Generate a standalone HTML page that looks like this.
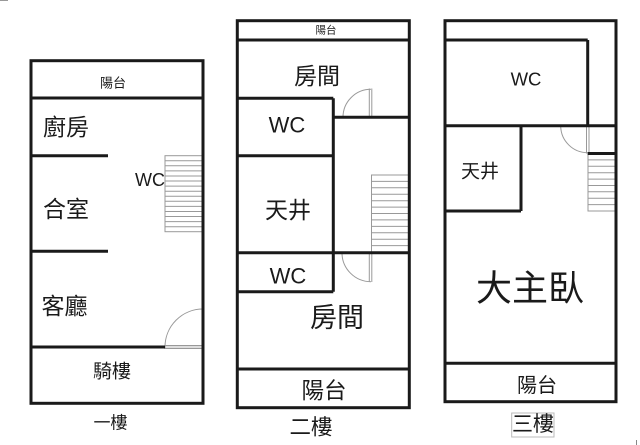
<!DOCTYPE html>
<html><head><meta charset="utf-8"><style>
html,body{margin:0;padding:0;background:#fff;}
svg{display:block;}
text{font-family:"Liberation Sans","Noto Sans CJK TC",sans-serif;fill:#1a1a1a;}
</style></head><body>
<svg width="640" height="445" viewBox="0 0 640 445" xmlns="http://www.w3.org/2000/svg">
<line x1="0" y1="0.5" x2="8" y2="0.5" stroke="#999" stroke-width="1"/>
<!-- ===== Floor 1 ===== -->
<g fill="none" stroke="#999" stroke-width="1">
  <rect x="165" y="155.7" width="38" height="76"/>
  <path d="M165 160.8H203M165 165.8H203M165 170.9H203M165 176H203M165 181H203M165 186.1H203M165 191.2H203M165 196.3H203M165 201.3H203M165 206.4H203M165 211.5H203M165 216.5H203M165 221.6H203M165 226.7H203"/>
  <path d="M165 347 A38 38 0 0 1 203 309"/>
  <rect x="165" y="345.5" width="38" height="3" fill="#ddd"/>
</g>
<g fill="none" stroke="#1a1a1a" stroke-width="3">
  <rect x="31" y="60.7" width="172" height="342.6"/>
  <line x1="31" y1="98" x2="203" y2="98"/>
  <line x1="31" y1="155.7" x2="108" y2="155.7"/>
  <line x1="31" y1="251.3" x2="108" y2="251.3"/>
  <line x1="31" y1="347" x2="165" y2="347"/>
</g>
<text x="113" y="83" font-size="13" text-anchor="middle" dominant-baseline="central">陽台</text>
<text x="66" y="127" font-size="23" text-anchor="middle" dominant-baseline="central">廚房</text>
<text x="66" y="209" font-size="23" text-anchor="middle" dominant-baseline="central">合室</text>
<text x="150" y="180" font-size="18" text-anchor="middle" dominant-baseline="central">WC</text>
<text x="64.5" y="306" font-size="23" text-anchor="middle" dominant-baseline="central">客廳</text>
<text x="112" y="372" font-size="19" text-anchor="middle" dominant-baseline="central">騎樓</text>
<text x="110.5" y="423" font-size="17" text-anchor="middle" dominant-baseline="central">一樓</text>

<!-- ===== Floor 2 ===== -->
<g fill="none" stroke="#999" stroke-width="1">
  <rect x="371.5" y="175" width="37.8" height="77"/>
  <path d="M371.5 181.4H409M371.5 187.8H409M371.5 194.3H409M371.5 200.7H409M371.5 207.1H409M371.5 213.5H409M371.5 219.9H409M371.5 226.4H409M371.5 232.8H409M371.5 239.2H409M371.5 245.6H409"/>
  <path d="M343 117.3 A28 28 0 0 1 371 89.3"/>
  <path d="M369.3 88.5V117.3M371.8 88.5V117.3"/>
  <path d="M371 281.7 A29 29 0 0 1 342 252.7"/>
  <path d="M369.3 252.7V282M371.8 252.7V282"/>
</g>
<g fill="none" stroke="#1a1a1a" stroke-width="3">
  <rect x="237.3" y="20.7" width="172" height="387"/>
  <line x1="237.3" y1="40" x2="409.3" y2="40"/>
  <line x1="237.3" y1="98.3" x2="333.3" y2="98.3"/>
  <line x1="333.3" y1="98.3" x2="333.3" y2="291.7"/>
  <line x1="237.3" y1="155.7" x2="333.3" y2="155.7"/>
  <line x1="333.3" y1="117.3" x2="409.3" y2="117.3"/>
  <line x1="237.3" y1="252.7" x2="409.3" y2="252.7"/>
  <line x1="237.3" y1="291.7" x2="333.3" y2="291.7"/>
  <line x1="237.3" y1="369" x2="409.3" y2="369"/>
</g>
<text x="326" y="30.7" font-size="10.5" text-anchor="middle" dominant-baseline="central">陽台</text>
<text x="317" y="76" font-size="23" text-anchor="middle" dominant-baseline="central">房間</text>
<text x="287" y="125" font-size="22" text-anchor="middle" dominant-baseline="central">WC</text>
<text x="288" y="210" font-size="23" text-anchor="middle" dominant-baseline="central">天井</text>
<text x="288" y="276" font-size="22" text-anchor="middle" dominant-baseline="central">WC</text>
<text x="337" y="318" font-size="27" text-anchor="middle" dominant-baseline="central">房間</text>
<text x="324" y="391" font-size="22.5" text-anchor="middle" dominant-baseline="central">陽台</text>
<text x="311" y="427.5" font-size="21.5" text-anchor="middle" dominant-baseline="central">二樓</text>

<!-- ===== Floor 3 ===== -->
<g fill="none" stroke="#999" stroke-width="1">
  <rect x="588" y="153.5" width="28" height="57.5"/>
  <path d="M588 159.9H616M588 166.3H616M588 172.7H616M588 179.1H616M588 185.5H616M588 191.8H616M588 198.2H616M588 204.6H616"/>
  <path d="M560.7 125.7 A27 27 0 0 0 587.7 152.7"/>
  <path d="M586.5 125.7V153.5M589 125.7V153.5"/>
</g>
<g fill="none" stroke="#1a1a1a" stroke-width="3">
  <rect x="445" y="20.7" width="171" height="381"/>
  <line x1="445" y1="40" x2="587.7" y2="40"/>
  <line x1="587.7" y1="40" x2="587.7" y2="125.7"/>
  <line x1="445" y1="125.7" x2="616" y2="125.7"/>
  <line x1="521" y1="125.7" x2="521" y2="211"/>
  <line x1="445" y1="211" x2="521" y2="211"/>
  <line x1="587.7" y1="153.5" x2="616" y2="153.5"/>
  <line x1="445" y1="363.3" x2="616" y2="363.3"/>
</g>
<text x="526" y="79" font-size="18.5" text-anchor="middle" dominant-baseline="central">WC</text>
<text x="480" y="172" font-size="19" text-anchor="middle" dominant-baseline="central">天井</text>
<text x="530" y="288" font-size="36" text-anchor="middle" dominant-baseline="central">大主臥</text>
<text x="537" y="386" font-size="20" text-anchor="middle" dominant-baseline="central">陽台</text>
<rect x="511.7" y="413" width="42.3" height="24" fill="none" stroke="#bbb" stroke-width="1"/>
<text x="533" y="424.5" font-size="21" text-anchor="middle" dominant-baseline="central">三樓</text>
<line x1="636.5" y1="440" x2="636.5" y2="445" stroke="#888" stroke-width="1"/>
</svg>
</body></html>
